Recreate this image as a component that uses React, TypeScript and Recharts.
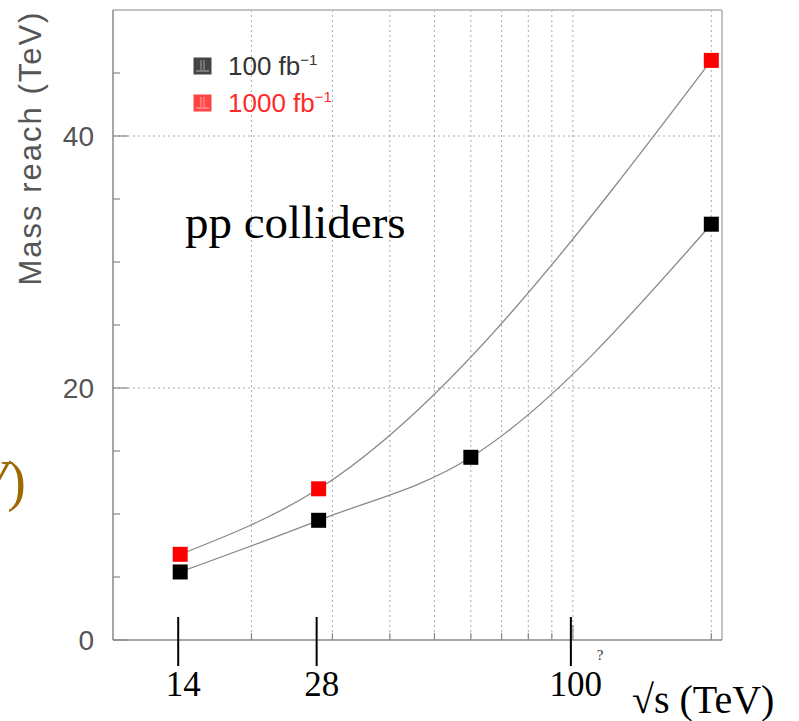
import { ComposedChart, Line, XAxis, YAxis, CartesianGrid, ReferenceLine, Legend } from 'recharts';

// sqrt(s) in TeV and mass reach in TeV
const energy100 = [14, 28, 60, 200];
const reach100 = [5.4, 9.5, 14.5, 33.0];
const energy1000 = [14, 28, 200];
const reach1000 = [6.8, 12.0, 46.0];

const seriesNames = ['100 fb', '1000 fb'];
const seriesColors = ['#000000', '#ff0000'];
const legendTextColors = ['#333333', '#ff2a2a'];

const xTicks = [14, 20, 28, 30, 40, 50, 60, 70, 80, 90, 100, 200];
const xGrid = [20, 30, 40, 50, 60, 70, 80, 90, 100, 200];
const xLabelled = [14, 28, 100];
const yTicks = [0, 5, 10, 15, 20, 25, 30, 35, 40, 45];
const yLabelled = [0, 20, 40];
const yGrid = [20, 40];

const data100 = energy100.map((x, i) => ({ x, y: reach100[i] }));
const data1000 = energy1000.map((x, i) => ({ x, y: reach1000[i] }));

const SANS = '"Liberation Sans", Arial, sans-serif';
const SERIF = '"Liberation Serif", "Times New Roman", serif';
const AXIS = '#888';

const squareDot = (color: string) => (props: any) => {
  const { cx, cy, index } = props;
  if (cx == null || cy == null) return <g key={index} />;
  return <rect key={index} x={cx - 7.5} y={cy - 7.5} width={15} height={15} fill={color} />;
};

const XTick = ({ x, y, payload }: any) => {
  const v = payload.value;
  return (
    <g>
      {xGrid.includes(v) && (
        <line x1={x} x2={x} y1={y} y2={y - (v === 100 ? 15 : 7)} stroke={AXIS} strokeWidth={1.2} />
      )}
      {xLabelled.includes(v) && (
        <g>
          <line x1={x - 2} x2={x - 2} y1={y - 23} y2={y + 26} stroke="#000" strokeWidth={2} />
          <text x={x + 3} y={y + 56} textAnchor="middle" fontFamily={SERIF} fontSize={35} fill="#000">
            {v}
          </text>
        </g>
      )}
      {v === 100 && (
        <text x={x + 24} y={y + 20} fontFamily={SERIF} fontSize={15} fill="#333">?</text>
      )}
    </g>
  );
};

const YTick = ({ x, y, payload }: any) => {
  const v = payload.value;
  const major = yLabelled.includes(v);
  return (
    <g>
      <line x1={x} x2={x + (major ? 15 : 7)} y1={y} y2={y} stroke={AXIS} strokeWidth={1.2} />
      {major && (
        <text x={x - 19} y={y + 10} textAnchor="end" fontFamily={SANS} fontSize={28} fill="#555">
          {v}
        </text>
      )}
    </g>
  );
};

const LegendSwatch = ({ color }: { color: string }) => (
  <svg width={19} height={18} style={{ verticalAlign: 'middle', marginRight: 16 }}>
    <rect x={0.5} y={0.5} width={18} height={17} fill={color === '#000000' ? '#444' : '#ff4444'} />
    <line x1={8} x2={8} y1={3} y2={13} stroke="#fff" strokeOpacity={0.5} strokeWidth={1} />
    <line x1={11} x2={11} y1={3} y2={13} stroke="#fff" strokeOpacity={0.5} strokeWidth={1} />
    <line x1={3} x2={16} y1={14} y2={14} stroke="#fff" strokeOpacity={0.6} strokeWidth={1} />
  </svg>
);

const LegendBox = () => (
  <div style={{ fontFamily: SANS, fontSize: 26 }}>
    {seriesNames.map((name, i) => (
      <div
        key={name}
        style={{ color: legendTextColors[i], whiteSpace: 'nowrap', height: 37, lineHeight: '37px' }}
      >
        <LegendSwatch color={seriesColors[i]} />
        <span style={{ verticalAlign: 'middle' }}>
          {name}
          <sup style={{ fontSize: 15, lineHeight: 0 }}>−1</sup>
        </span>
      </div>
    ))}
  </div>
);

export default function App() {
  return (
    <div style={{ position: 'absolute', left: 0, top: 0, width: 799, height: 721, background: '#fff' }}>
      <ComposedChart width={799} height={721} margin={{ top: 10, right: 77, bottom: 51, left: 53 }}>
        <CartesianGrid
          horizontalValues={yGrid}
          verticalValues={xGrid}
          stroke="#aaa"
          strokeDasharray="2 3"
          strokeWidth={1}
        />
        <XAxis
          dataKey="x"
          type="number"
          scale="log"
          domain={[10, 211]}
          allowDataOverflow
          ticks={xTicks}
          interval={0}
          tick={<XTick />}
          tickLine={false}
          tickSize={0}
          tickMargin={0}
          height={30}
          axisLine={{ stroke: AXIS, strokeWidth: 1.5 }}
        />
        <YAxis
          type="number"
          domain={[0, 50]}
          ticks={yTicks}
          interval={0}
          tick={<YTick />}
          tickLine={false}
          tickSize={0}
          tickMargin={0}
          width={60}
          axisLine={{ stroke: AXIS, strokeWidth: 1.5 }}
        />
        <ReferenceLine y={50} stroke="#c4c4c4" strokeWidth={2} />
        <ReferenceLine x={211} stroke="#c4c4c4" strokeWidth={2} />
        <Legend
          layout="vertical"
          align="center"
          verticalAlign="middle"
          wrapperStyle={{ left: 193, top: 46, width: 220, height: 80 }}
          content={() => <LegendBox />}
        />
        <Line
          data={data1000}
          dataKey="y"
          name="1000 fb-1"
          type="monotone"
          stroke="#8a8a8a"
          strokeWidth={1.3}
          dot={squareDot(seriesColors[1])}
          activeDot={false}
          isAnimationActive={false}
        />
        <Line
          data={data100}
          dataKey="y"
          name="100 fb-1"
          type="monotone"
          stroke="#8a8a8a"
          strokeWidth={1.3}
          dot={squareDot(seriesColors[0])}
          activeDot={false}
          isAnimationActive={false}
        />
      </ComposedChart>
      <svg
        width={799}
        height={721}
        style={{ position: 'absolute', left: 0, top: 0, pointerEvents: 'none' }}
      >
        <text
          transform="translate(41,148) rotate(-90)"
          textAnchor="middle"
          fontFamily={SANS}
          fontSize={31}
          letterSpacing={2}
          fill="#555"
        >
          Mass reach (TeV)
        </text>
        <text x={26} y={500} textAnchor="end" fontFamily={SERIF} fontSize={56} fill="#9c6a00">
          <tspan fontStyle="italic">V</tspan>)
        </text>
        <text x={185} y={238} fontFamily={SERIF} fontSize={47} fill="#000">
          pp colliders
        </text>
        <text x={632} y={713} fontFamily={SERIF} fontSize={40} fill="#000">
          √s (TeV)
        </text>
      </svg>
    </div>
  );
}
